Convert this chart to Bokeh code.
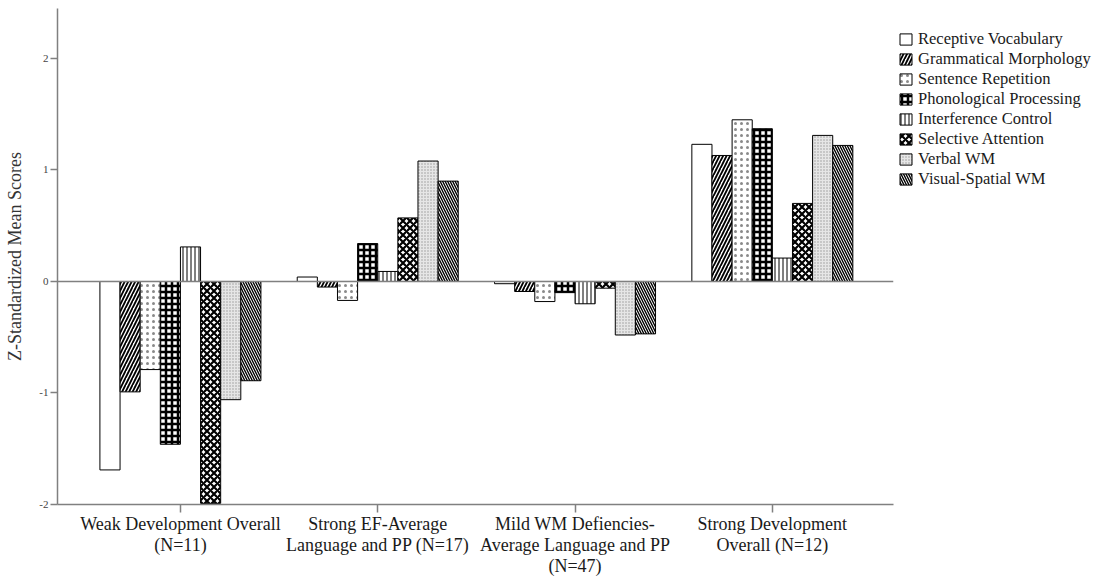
from bokeh.plotting import figure
from bokeh.models import (ColumnDataSource, FixedTicker, Span, Legend, LegendItem, Range1d)
from bokeh.transform import dodge
from bokeh.embed import file_html
from bokeh.resources import INLINE

# ---- data ----
groups = ["Weak Development Overall\n(N=11)",
          "Strong EF-Average\nLanguage and PP (N=17)",
          "Mild WM Defiencies-\nAverage Language and PP\n(N=47)",
          "Strong Development\nOverall (N=12)"]
series = ["Receptive Vocabulary", "Grammatical Morphology", "Sentence Repetition",
          "Phonological Processing", "Interference Control", "Selective Attention",
          "Verbal WM", "Visual-Spatial WM"]
receptive_vocabulary = [-1.69, 0.04, -0.02, 1.23]
grammatical_morphology = [-0.99, -0.05, -0.09, 1.13]
sentence_repetition = [-0.79, -0.17, -0.18, 1.45]
phonological_processing = [-1.46, 0.34, -0.10, 1.37]
interference_control = [0.31, 0.09, -0.20, 0.21]
selective_attention = [-1.99, 0.57, -0.06, 0.70]
verbal_wm = [-1.06, 1.08, -0.48, 1.31]
visual_spatial_wm = [-0.89, 0.90, -0.47, 1.22]
y_ticks = [-2, -1, 0, 1, 2]
y_tick_labels = ["-2", "-1", "0", "1", "2"]

values = [receptive_vocabulary, grammatical_morphology, sentence_repetition,
          phonological_processing, interference_control, selective_attention,
          verbal_wm, visual_spatial_wm]

FONT = "Liberation Serif"

styles = [
    dict(fill_color="white"),
    dict(fill_color="white", hatch_pattern="right_diagonal_line", hatch_color="black",
         hatch_scale=7, hatch_weight=1.8),
    dict(fill_color="white", hatch_pattern="dot", hatch_color="#8a8a8a",
         hatch_scale=6, hatch_weight=0.8),
    dict(fill_color="white", hatch_pattern="cross", hatch_color="black",
         hatch_scale=6, hatch_weight=2.5),
    dict(fill_color="white", hatch_pattern="vertical_line", hatch_color="black",
         hatch_scale=4, hatch_weight=1),
    dict(fill_color="white", hatch_pattern="diagonal_cross", hatch_color="black",
         hatch_scale=7, hatch_weight=2.2),
    dict(fill_color="#e6e6e6", hatch_pattern="dot", hatch_color="#999999",
         hatch_scale=3, hatch_weight=0.5),
    dict(fill_color="white", hatch_pattern="left_diagonal_line", hatch_color="black",
         hatch_scale=5, hatch_weight=1.4),
]

p = figure(frame_width=836, frame_height=496, output_backend="svg",
           toolbar_location=None, x_range=Range1d(-0.623, 3.614),
           y_range=Range1d(-2.0, 2.448), min_border_top=8, min_border_left=57,
           min_border_right=198, min_border_bottom=10)
p.grid.visible = False
p.outline_line_color = None
p.background_fill_color = "white"

bw = 0.102
renderers = []
for i, (name, vals) in enumerate(zip(series, values)):
    src = ColumnDataSource(dict(x=list(range(len(groups))), top=vals))
    r = p.vbar(x=dodge("x", (i - 3.5) * bw), top="top", bottom=0, width=bw,
               source=src, line_color="black", line_width=1, **styles[i])
    renderers.append(r)

p.add_layout(Span(location=0, dimension="width", line_color="#808080", line_width=1.5))

# axes
xa = p.xaxis[0]
xa.ticker = FixedTicker(ticks=list(range(len(groups))))
xa.major_label_overrides = {i: g for i, g in enumerate(groups)}
xa.major_label_text_font = FONT
xa.major_label_text_font_size = "18px"
xa.major_label_text_color = "#1a1a1a"
xa.major_label_text_line_height = 1.05
xa.major_label_standoff = 1
xa.major_tick_out = 8
xa.major_tick_in = 0
xa.minor_tick_line_color = None
xa.axis_line_color = "#808080"
xa.axis_line_width = 1.5
xa.major_tick_line_color = "#808080"
xa.major_tick_line_width = 1.5

ya = p.yaxis[0]
ya.ticker = FixedTicker(ticks=y_ticks)
ya.major_label_overrides = {t: s for t, s in zip(y_ticks, y_tick_labels)}
ya.major_label_text_font = FONT
ya.major_label_text_font_size = "11px"
ya.major_label_text_color = "#444444"
ya.major_label_standoff = 2
ya.major_tick_out = 7
ya.major_tick_in = 0
ya.minor_tick_line_color = None
ya.axis_line_color = "#808080"
ya.axis_line_width = 1.5
ya.major_tick_line_color = "#808080"
ya.major_tick_line_width = 1.5
ya.axis_label = "Z-Standardized Mean Scores"
ya.axis_label_text_font = FONT
ya.axis_label_text_font_size = "18px"
ya.axis_label_text_font_style = "normal"
ya.axis_label_text_color = "#333333"
ya.axis_label_standoff = 11

legend = Legend(items=[LegendItem(label=n, renderers=[r]) for n, r in zip(series, renderers)],
                location=(5, 315), margin=0, padding=0, spacing=0,
                glyph_width=15, glyph_height=14, label_height=19, label_standoff=5,
                label_text_font=FONT, label_text_font_size="16.5px",
                label_text_color="#1a1a1a", border_line_color=None,
                background_fill_alpha=0)
p.add_layout(legend, "right")

open("out.html", "w").write(file_html(p, INLINE))
